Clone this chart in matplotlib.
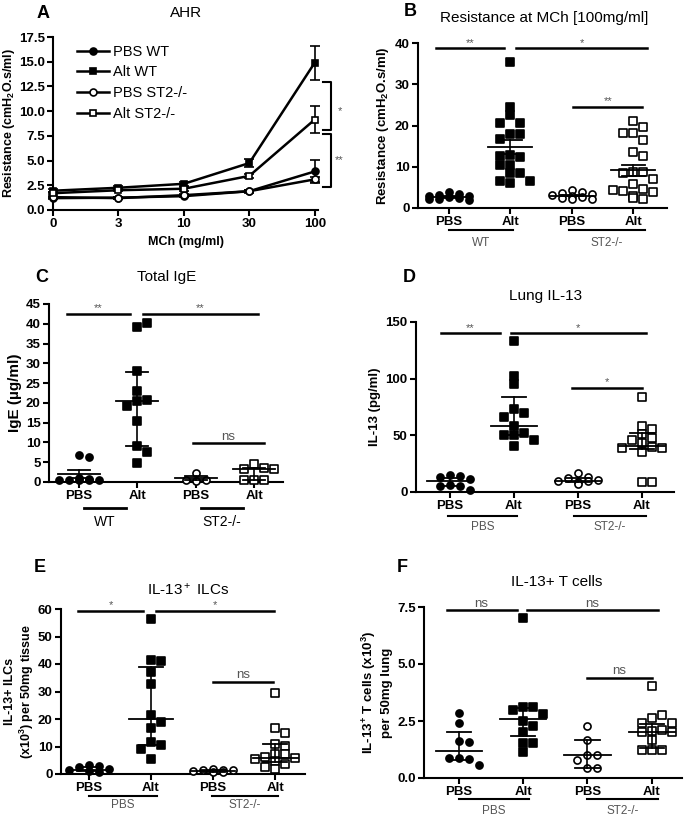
import matplotlib
matplotlib.use("Agg")
import matplotlib.pyplot as plt

plt.rcParams['font.family'] = ['Liberation Sans', 'DejaVu Sans']
plt.rcParams['mathtext.fontset'] = 'custom'
plt.rcParams['mathtext.rm'] = 'Liberation Sans'
plt.rcParams['mathtext.bf'] = 'Liberation Sans:bold'
plt.rcParams['mathtext.it'] = 'Liberation Sans:italic'

W, H = 688, 819
GREY = '#555555'

# ---------------- data ----------------
# A: AHR curves
mch_labels = ['0', '3', '10', '30', '100']
a_pbs_wt = [1.2, 1.25, 1.4, 1.9, 3.9]
a_pbs_wt_err = [0.1, 0.1, 0.1, 0.15, 1.2]
a_alt_wt = [1.95, 2.25, 2.65, 4.75, 14.9]
a_alt_wt_err = [0.15, 0.15, 0.2, 0.45, 1.7]
a_pbs_st2 = [1.3, 1.2, 1.5, 1.9, 3.1]
a_pbs_st2_err = [0.1, 0.1, 0.1, 0.1, 0.25]
a_alt_st2 = [1.7, 2.0, 2.15, 3.45, 9.15]
a_alt_st2_err = [0.1, 0.1, 0.2, 0.2, 1.35]

group_labels = ['PBS', 'Alt', 'PBS', 'Alt']

# B: resistance at 100 mg/ml
b_pbs_wt = [3.9, 3.5, 3.2, 3.0, 2.8, 2.6, 2.4, 2.2, 2.0, 2.1]
b_alt_wt = [35.5, 24.6, 22.6, 20.7, 20.7, 17.9, 17.9, 16.8, 12.9, 12.3, 12.6,
            10.5, 10.4, 8.5, 8.4, 6.6, 6.0, 6.6]
b_pbs_st2 = [4.3, 3.9, 3.7, 3.4, 3.2, 3.0, 2.7, 2.4, 2.2, 2.1]
b_alt_st2 = [21.2, 19.6, 18.1, 18.1, 16.4, 13.5, 12.6, 8.8, 8.7, 8.5, 7.0, 5.9,
             4.6, 4.2, 4.0, 4.3, 2.9, 2.1, 2.4]
b_summary = [(2.7, 2.5, 2.9), (14.8, 13.2, 16.6), (3.0, 2.8, 3.2), (9.1, 7.8, 10.4)]

# C: total IgE
c_pbs_wt = [6.8, 6.3, 0.9, 0.7, 0.5, 0.4, 0.6, 0.5, 0.4]
c_alt_wt = [39.1, 40.2, 28.0, 23.1, 20.6, 20.8, 19.1, 15.3, 9.2, 7.7, 4.9]
c_pbs_st2 = [2.4, 0.3, 0.4, 0.6]
c_alt_st2 = [4.6, 3.5, 3.2, 3.4, 0.5, 0.4, 0.6]
c_summary = [(1.9, 0.9, 3.0), (20.6, 9.2, 27.7), (0.9, 0.5, 1.6), (3.2, 0.5, 3.6)]

# D: lung IL-13
d_pbs_wt = [15.0, 14.0, 13.0, 11.5, 6.2, 5.5, 5.0, 1.8]
d_alt_wt = [133, 102.5, 95, 73, 70, 66, 58.5, 52, 50.5, 50.5, 46, 41]
d_pbs_st2 = [16.5, 13.5, 12.0, 10.5, 10.0, 9.0, 9.5, 7.0]
d_alt_st2 = [83.5, 58.5, 56, 51, 47.5, 46, 43, 40, 39, 39, 35, 9, 9]
d_summary = [(9.8, 5.5, 12.5), (58.3, 50, 83.5), (10, 9, 12), (41, 38, 52)]

# E: IL-13+ ILCs
e_pbs_wt = [3.4, 2.8, 2.7, 1.8, 1.5, 1.2, 0.9]
e_alt_wt = [56.2, 41.5, 41.2, 37, 32.8, 21.5, 18.8, 16.6, 11.5, 10.6, 9.1, 5.5]
e_pbs_st2 = [1.8, 1.6, 1.5, 1.3, 1.0, 0.9, 0.7]
e_alt_st2 = [29.4, 16.9, 14.8, 10.9, 10.2, 7.3, 7.1, 6.3, 5.7, 5.5, 4.9, 3.5, 2.7, 1.9]
e_summary = [(1.5, 1.0, 2.5), (20, 10.7, 38.9), (1.0, 0.8, 1.4), (5.8, 4.5, 10.8)]

# F: IL-13+ T cells
f_pbs_wt = [2.85, 2.43, 1.63, 1.56, 0.87, 0.85, 0.88, 0.58]
f_alt_wt = [7.03, 3.10, 3.13, 3.0, 2.8, 2.48, 2.26, 2.0, 1.53, 1.53, 1.12]
f_pbs_st2 = [2.29, 1.67, 1.02, 1.02, 0.77, 0.44, 0.44]
f_alt_st2 = [4.03, 2.62, 2.77, 2.43, 2.43, 2.04, 2.11, 2.0, 1.67, 1.24, 1.24, 1.24, 2.0]
f_summary = [(1.17, 0.8, 2.0), (2.58, 1.85, 3.05), (1.0, 0.45, 1.65), (2.0, 1.3, 2.35)]

fig = plt.figure(figsize=(W / 100, H / 100), dpi=100)


def add_axes(l, t, r, b):
    return fig.add_axes([l / W, 1 - b / H, (r - l) / W, (b - t) / H])


def style(ax, yticks, ylabels, ylim):
    for s in ['top', 'right']:
        ax.spines[s].set_visible(False)
    for s in ['left', 'bottom']:
        ax.spines[s].set_linewidth(1.5)
    ax.set_ylim(*ylim)
    ax.set_yticks(yticks, labels=ylabels, fontweight='bold', fontsize=9.5)
    ax.tick_params(width=1.5, length=4, pad=2)


def swarm_x(ax, xc, vals, dx=10, dy=8):
    # simple column swarm: centre first, then +-1, +-2 columns; least overlap wins
    tr = ax.transData
    inv = tr.inverted()
    placed, xs = [], []
    for v in vals:
        px, py = tr.transform((xc, v))
        best, best_n = px, None
        for k in [0, 1, -1, 2, -2]:
            cx = px + k * dx
            n = sum(1 for qx, qy in placed if abs(cx - qx) < dx * 0.9 and abs(py - qy) < dy)
            if best_n is None or n < best_n:
                best, best_n = cx, n
            if n == 0:
                break
        placed.append((best, py))
        xs.append(inv.transform((best, py))[0])
    return xs


MARKERS = [('o', 'black'), ('s', 'black'), ('o', 'white'), ('s', 'white')]


def dot_panel(ax, groups, summary, xlim):
    ax.set_xlim(*xlim)
    ax.set_xticks(range(4), labels=group_labels, fontweight='bold', fontsize=9.5)
    for i, vals in enumerate(groups):
        m, fc = MARKERS[i]
        xs = swarm_x(ax, i, vals)
        ax.scatter(xs, vals, marker=m, s=26, facecolor=fc, edgecolor='black',
                   linewidth=1.2, zorder=3, clip_on=False)
        mid, lo, hi = summary[i]
        ax.plot([i - 0.36, i + 0.36], [mid, mid], color='black', lw=1.3, zorder=4)
        ax.plot([i - 0.19, i + 0.19], [lo, lo], color='black', lw=1.3, zorder=4)
        ax.plot([i - 0.19, i + 0.19], [hi, hi], color='black', lw=1.3, zorder=4)
        ax.plot([i, i], [lo, hi], color='black', lw=1.2, zorder=4)


def sig(ax, x0, x1, y, txt, size=8):
    ax.plot([x0, x1], [y, y], color='black', lw=1.8, clip_on=False)
    ax.annotate(txt, ((x0 + x1) / 2, y), xytext=(0, 0.5), textcoords='offset points',
                ha='center', va='bottom', fontsize=size, color=GREY)


def groups_below(ax, spans, names, dline, dtext, color=GREY, size=8.5, lw=1.5):
    h = ax.bbox.height
    tr = ax.get_xaxis_transform()
    for (x0, x1), name in zip(spans, names):
        ax.plot([x0, x1], [-dline / h] * 2, color='black', lw=lw, transform=tr, clip_on=False)
        ax.text((x0 + x1) / 2, -dtext / h, name, transform=tr, ha='center', va='center',
                fontsize=size, color=color)


def letter(x, y, s):
    fig.text(x / W, 1 - y / H, s, fontsize=13, fontweight='bold', ha='center', va='center')


def title(x, y, s):
    fig.text(x / W, 1 - y / H, s, fontsize=11, ha='center', va='center')


# ---------------- A ----------------
axA = add_axes(53, 37, 318, 210)
style(axA, [0, 2.5, 5, 7.5, 10, 12.5, 15, 17.5],
      ['0.0', '2.5', '5.0', '7.5', '10.0', '12.5', '15.0', '17.5'], (0, 17.5))
axA.set_xlim(0, 4.05)
axA.set_xticks(range(5), labels=mch_labels, fontweight='bold', fontsize=9.5)
xA = list(range(5))
seriesA = [(a_pbs_wt, a_pbs_wt_err, 'o', 'black', 'PBS WT'),
           (a_alt_wt, a_alt_wt_err, 's', 'black', 'Alt WT'),
           (a_pbs_st2, a_pbs_st2_err, 'o', 'white', 'PBS ST2-/-'),
           (a_alt_st2, a_alt_st2_err, 's', 'white', 'Alt ST2-/-')]
handles = []
for vals, err, m, fc, lab in seriesA:
    axA.errorbar(xA, vals, yerr=err, fmt='none', ecolor='black', elinewidth=1.2,
                 capsize=3.5, capthick=1.2, clip_on=False, zorder=2)
    ln, = axA.plot(xA, vals, '-', marker=m, color='black', mfc=fc, mec='black',
                   mew=1.2, ms=5, lw=1.8, clip_on=False, zorder=3, label=lab)
    handles.append(ln)
axA.legend(handles=handles, loc='upper left', bbox_to_anchor=(0.04, 1.03), frameon=False,
           fontsize=10.5, handlelength=2.2, handletextpad=0.3, labelspacing=0.45)
axA.set_xlabel('MCh (mg/ml)', fontweight='bold', fontsize=9, labelpad=4)
axA.set_ylabel('Resistance (cmH$_\\mathbf{2}$O.s/ml)', fontweight='bold', fontsize=9, labelpad=1)
# brackets on right
for top, bot, txt, ty in [(12.9, 8.1, '*', 10.0), (7.7, 2.3, '**', 5.0)]:
    axA.plot([4.13, 4.25, 4.25, 4.13], [top, top, bot, bot], color='black', lw=1.5, clip_on=False)
    axA.text(4.38, ty, txt, fontsize=8, color=GREY, ha='center', va='center')
letter(43, 13, 'A')
title(186, 13, 'AHR')

# ---------------- B ----------------
axB = add_axes(418, 43, 667, 208)
style(axB, [0, 10, 20, 30, 40], ['0', '10', '20', '30', '40'], (0, 40))
dot_panel(axB, [b_pbs_wt, b_alt_wt, b_pbs_st2, b_alt_st2], b_summary, (-0.5, 3.55))
axB.set_ylabel('Resistance (cmH$_\\mathbf{2}$O.s/ml)', fontweight='bold', fontsize=9.5, labelpad=3)
sig(axB, -0.2, 0.9, 38.7, '**')
sig(axB, 1.1, 3.22, 38.7, '*')
sig(axB, 2.02, 3.15, 24.5, '**')
groups_below(axB, [(0.0, 1.05), (1.95, 3.2)], ['WT', 'ST2-/-'], 22, 35)
letter(410, 12, 'B')
title(544, 18, 'Resistance at MCh [100mg/ml]')

# ---------------- C ----------------
axC = add_axes(49, 304, 283, 482)
style(axC, list(range(0, 50, 5)), [str(v) for v in range(0, 50, 5)], (0, 45))
dot_panel(axC, [c_pbs_wt, c_alt_wt, c_pbs_st2, c_alt_st2], c_summary, (-0.51, 3.49))
axC.set_ylabel('IgE (\u00b5g/ml)', fontweight='bold', fontsize=11, labelpad=3)
sig(axC, -0.2, 0.87, 42.5, '**')
sig(axC, 1.09, 3.06, 42.5, '**')
sig(axC, 1.95, 3.16, 9.8, 'ns', size=9.5)
groups_below(axC, [(0.09, 0.8), (2.08, 2.8)], ['WT', 'ST2-/-'], 26, 40,
             color='black', size=10, lw=2)
letter(42, 277, 'C')
title(167, 277, 'Total IgE')

# ---------------- D ----------------
axD = add_axes(416, 322, 674, 492)
style(axD, [0, 50, 100, 150], ['0', '50', '100', '150'], (0, 150))
dot_panel(axD, [d_pbs_wt, d_alt_wt, d_pbs_st2, d_alt_st2], d_summary, (-0.53, 3.5))
axD.set_ylabel('IL-13 (pg/ml)', fontweight='bold', fontsize=9.5, labelpad=3)
sig(axD, -0.14, 0.78, 140, '**')
sig(axD, 0.95, 3.06, 140, '*')
sig(axD, 1.9, 3.0, 92, '*')
groups_below(axD, [(-0.03, 1.05), (1.94, 3.06)], ['PBS', 'ST2-/-'], 24, 35)
letter(409, 277, 'D')
title(546, 296, 'Lung IL-13')

# ---------------- E ----------------
axE = add_axes(61, 609, 305, 774)
style(axE, list(range(0, 70, 10)), [str(v) for v in range(0, 70, 10)], (0, 60))
dot_panel(axE, [e_pbs_wt, e_alt_wt, e_pbs_st2, e_alt_st2], e_summary, (-0.45, 3.48))
axE.set_ylabel('IL-13+ ILCs\n(x10$^\\mathbf{3}$) per 50mg tissue', fontweight='bold',
               fontsize=9, labelpad=1, linespacing=1.2)
sig(axE, -0.17, 0.87, 59.3, '*')
sig(axE, 1.08, 2.98, 59.3, '*')
sig(axE, 2.0, 2.97, 33.6, 'ns', size=9.5)
groups_below(axE, [(0.0, 1.1), (1.98, 3.05)], ['PBS', 'ST2-/-'], 22, 31)
letter(40, 568, 'E')
title(188, 590, 'IL-13$^+$ ILCs')

# ---------------- F ----------------
axF = add_axes(424, 607, 682, 778)
style(axF, [0, 2.5, 5, 7.5], ['0.0', '2.5', '5.0', '7.5'], (0, 7.5))
dot_panel(axF, [f_pbs_wt, f_alt_wt, f_pbs_st2, f_alt_st2], f_summary, (-0.54, 3.47))
axF.set_ylabel('IL-13$^\\mathbf{+}$ T cells (x10$^\\mathbf{3}$)\nper 50mg lung', fontweight='bold',
               fontsize=9.5, labelpad=3, linespacing=1.3)
sig(axF, -0.19, 0.9, 7.35, 'ns', size=9.5)
sig(axF, 1.06, 3.1, 7.35, 'ns', size=9.5)
sig(axF, 1.99, 3.0, 4.4, 'ns', size=9.5)
groups_below(axF, [(0.0, 1.09), (1.99, 3.1)], ['PBS', 'ST2-/-'], 21, 33)
letter(402, 568, 'F')
title(557, 582, 'IL-13+ T cells')

fig.savefig('out.png', dpi=100)
